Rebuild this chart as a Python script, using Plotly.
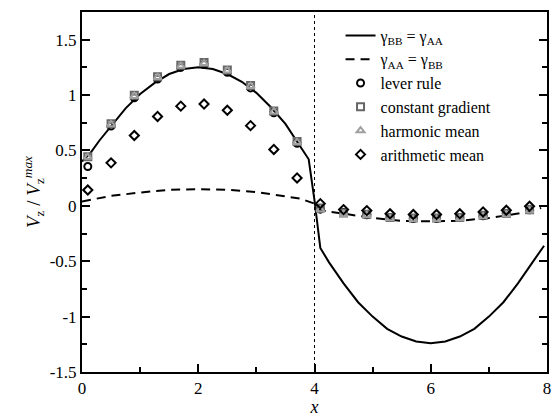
import plotly.graph_objects as go

# Solid line: gamma_BB = gamma_AA
solid_x = [0.0, 0.15, 0.3, 0.5, 0.75, 1.0, 1.25, 1.5, 1.75, 2.0, 2.25, 2.5, 2.75, 3.0, 3.25, 3.5, 3.7, 3.9, 4.0,
           4.1, 4.25, 4.5, 4.75, 5.0, 5.25, 5.5, 5.75, 6.0, 6.25, 6.5, 6.75, 7.0, 7.25, 7.5, 7.75, 7.95]
solid_y = [0.40, 0.48, 0.59, 0.72, 0.88, 1.01, 1.11, 1.19, 1.235, 1.25, 1.235, 1.19, 1.12, 1.02, 0.89, 0.74, 0.58, 0.42, 0.05,
           -0.38, -0.51, -0.70, -0.87, -1.00, -1.11, -1.18, -1.225, -1.24, -1.225, -1.18, -1.11, -1.00, -0.87, -0.70, -0.51, -0.36]

# Dashed line: gamma_AA = gamma_BB
dash_x = [0.0, 0.5, 1.0, 1.5, 2.0, 2.5, 3.0, 3.5, 3.75, 4.0, 4.1, 4.5, 5.0, 5.5, 6.0, 6.5, 7.0, 7.5, 7.9]
dash_y = [0.04, 0.09, 0.12, 0.145, 0.15, 0.145, 0.125, 0.09, 0.066, 0.02, -0.04, -0.07, -0.11, -0.135, -0.14, -0.135, -0.11, -0.07, -0.02]

pts_x = [0.1, 0.5, 0.9, 1.3, 1.7, 2.1, 2.5, 2.9, 3.3, 3.7, 4.1, 4.5, 4.9, 5.3, 5.7, 6.1, 6.5, 6.9, 7.3, 7.7]
lever_y = [0.355, 0.72, 0.975, 1.145, 1.25, 1.275, 1.205, 1.065, 0.84, 0.565,
           -0.03, -0.06, -0.08, -0.105, -0.115, -0.115, -0.105, -0.09, -0.07, -0.035]
constgrad_y = [0.444, 0.742, 0.998, 1.166, 1.27, 1.294, 1.226, 1.087, 0.857, 0.58,
               -0.02, -0.065, -0.075, -0.105, -0.11, -0.11, -0.105, -0.085, -0.07, -0.035]
harmonic_y = [0.44, 0.735, 0.99, 1.16, 1.262, 1.287, 1.22, 1.08, 0.85, 0.575,
              -0.035, -0.075, -0.085, -0.115, -0.12, -0.12, -0.115, -0.095, -0.08, -0.045]
arith_y = [0.143, 0.388, 0.635, 0.807, 0.90, 0.919, 0.863, 0.724, 0.509, 0.252,
           0.02, -0.034, -0.043, -0.072, -0.078, -0.078, -0.072, -0.055, -0.04, -0.004]

FONT = "Times New Roman, Times, Liberation Serif, serif"

fig = go.Figure()
fig.add_trace(go.Scatter(x=solid_x, y=solid_y, mode="lines", line=dict(color="black", width=2),
                         name="γ<sub>BB</sub> = γ<sub>AA</sub>"))
fig.add_trace(go.Scatter(x=dash_x, y=dash_y, mode="lines", line=dict(color="black", width=2, dash="9px,6px"),
                         name="γ<sub>AA</sub> = γ<sub>BB</sub>"))
fig.add_trace(go.Scatter(x=pts_x, y=lever_y, mode="markers", name="lever rule",
                         marker=dict(symbol="circle-open", size=7, color="black", line=dict(width=2))))
fig.add_trace(go.Scatter(x=pts_x, y=constgrad_y, mode="markers", name="constant gradient",
                         marker=dict(symbol="square-open", size=7, color="#666666", line=dict(width=2))))
fig.add_trace(go.Scatter(x=pts_x, y=harmonic_y, mode="markers", name="harmonic mean",
                         marker=dict(symbol="triangle-up-open", size=7, color="#a0a0a0", line=dict(width=2))))
fig.add_trace(go.Scatter(x=pts_x, y=arith_y, mode="markers", name="arithmetic mean",
                         marker=dict(symbol="diamond-open", size=7, color="black", line=dict(width=2))))

fig.add_shape(type="line", x0=4, x1=4, y0=-1.5, y1=1.75, xref="x", yref="y",
              line=dict(color="black", width=1, dash="dot"))

fig.update_layout(
    width=555, height=417,
    margin=dict(l=82, r=4, t=12, b=38),
    plot_bgcolor="white", paper_bgcolor="white",
    font=dict(family=FONT, size=16, color="black"),
    showlegend=True,
    legend=dict(x=0.556, y=0.982, xanchor="left", yanchor="top", bgcolor="rgba(0,0,0,0)",
                font=dict(family=FONT, size=16), tracegroupgap=0, itemwidth=30),
    xaxis=dict(range=[0, 8], tickvals=[0, 2, 4, 6, 8], showgrid=False, zeroline=False,
               showline=True, linecolor="black", linewidth=2, mirror=True,
               ticks="inside", ticklen=8, tickwidth=1.5, tickcolor="black",
               minor=dict(tickvals=[1, 3, 5, 7], ticks="inside", ticklen=5, tickwidth=1.5, tickcolor="black"),
               tickfont=dict(family=FONT, size=17, color="black"),
               title=dict(text="<i>x</i>", font=dict(family=FONT, size=18, color="black"), standoff=2)),
    yaxis=dict(range=[-1.5, 1.75], tickvals=[-1.5, -1, -0.5, 0, 0.5, 1, 1.5],
               ticktext=["-1.5", "-1", "-0.5", "0", "0.5", "1", "1.5"],
               showgrid=False, zeroline=False,
               showline=True, linecolor="black", linewidth=2, mirror="ticks",
               ticks="inside", ticklen=8, tickwidth=1.5, tickcolor="black",
               minor=dict(tickvals=[-1.25, -0.75, -0.25, 0.25, 0.75, 1.25], ticks="inside", ticklen=5,
                          tickwidth=1.5, tickcolor="black"),
               tickfont=dict(family=FONT, size=17, color="black"),
               title=dict(text="<i>V</i><sub>z</sub> / <i>V</i><sub>z</sub><sup><i>max</i></sup>",
                          font=dict(family=FONT, size=19, color="black"), standoff=4)),
)

fig.write_html("out.html")
